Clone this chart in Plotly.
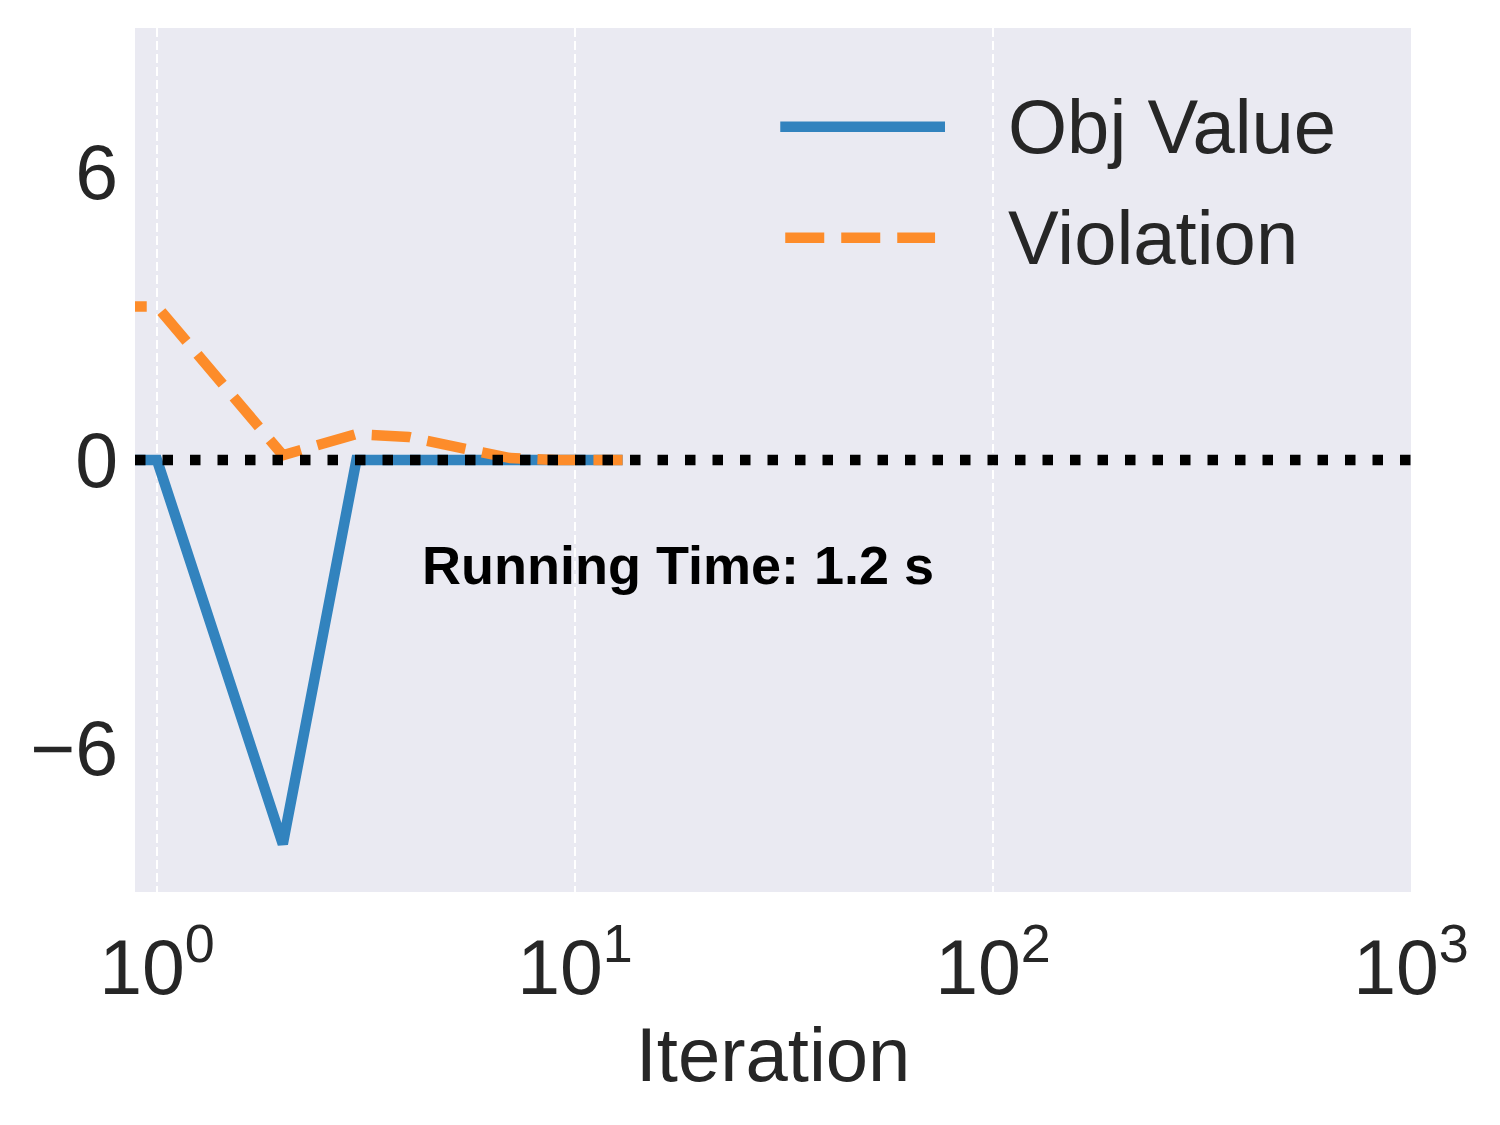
import plotly.graph_objects as go

# ---------------- data ----------------
iterations = [0, 1, 2, 3, 4, 5, 6, 7, 8, 9, 10, 11, 12, 13]
obj_value = [0, 0, -8.0, 0, 0, 0, 0, 0, 0, 0, 0, 0, 0, 0]
violation = [3.2, 3.2, 0.1, 0.54, 0.48, 0.28, 0.16, 0.04, 0, 0, 0, 0, 0, 0]

series_names = ["Obj Value", "Violation"]
x_tick_vals = [1, 10, 100, 1000]
x_tick_text = ["10<sup>0</sup>", "10<sup>1</sup>", "10<sup>2</sup>", "10<sup>3</sup>"]
y_tick_vals = [-6, 0, 6]
y_tick_text = ["\u22126", "0", "6"]
note_text = "Running Time: 1.2 s"

# matplotlib clips non-positive values on a log axis far to the left;
# emulate by substituting a small positive x for iteration 0
CLIP_X = 0.56
x_plot = [i if i > 0 else CLIP_X for i in iterations]

BLUE = "#3283be"
ORANGE = "#fd8c2a"
TEXT = "#262626"
LW = 10.5

fig = go.Figure()
fig.add_trace(go.Scatter(x=x_plot, y=obj_value, mode="lines", name=series_names[0],
                         line=dict(color=BLUE, width=LW), showlegend=False))
fig.add_trace(go.Scatter(x=x_plot, y=violation, mode="lines", name=series_names[1],
                         line=dict(color=ORANGE, width=LW, dash="39px,17px"), showlegend=False))

# dotted zero reference line (axhline)
fig.add_shape(type="line", xref="x domain", yref="y", x0=0, x1=1, y0=0, y1=0,
              line=dict(color="black", width=LW, dash="10.5px,17px"), layer="above")

# custom legend (long line samples as in the reference)
fig.add_shape(type="line", xref="x domain", yref="y domain", x0=0.5057, x1=0.6348,
              y0=0.8857, y1=0.8857, line=dict(color=BLUE, width=LW))
fig.add_shape(type="line", xref="x domain", yref="y domain", x0=0.5096, x1=0.6270,
              y0=0.7572, y1=0.7572, line=dict(color=ORANGE, width=LW, dash="39px,17px"))
for name, yy in zip(series_names, [0.8857, 0.7572]):
    fig.add_annotation(text=name, xref="x domain", yref="y domain", x=0.6826, y=yy,
                       xanchor="left", yanchor="middle", showarrow=False,
                       font=dict(family="Liberation Sans", size=76, color=TEXT))

fig.add_annotation(text=note_text, xref="x domain", yref="y domain", x=0.2231, y=0.3786,
                   xanchor="left", yanchor="middle", showarrow=False,
                   font=dict(family="Liberation Sans", size=54, color="black", weight="bold"))

fig.update_layout(
    width=1500, height=1125,
    margin=dict(l=127, r=97, t=20, b=241, pad=0),
    paper_bgcolor="white", plot_bgcolor="#eaeaf2",
    font=dict(family="Liberation Sans", size=76, color=TEXT),
)
fig.update_xaxes(type="log", range=[-0.0526, 3.0], tickvals=x_tick_vals, ticktext=x_tick_text,
                 showgrid=True, gridcolor="white", gridwidth=2, griddash="9px,4px",
                 zeroline=False, showline=False, ticks="", ticklabelstandoff=24,
                 tickfont=dict(size=77, color=TEXT),
                 title=dict(text="Iteration", font=dict(size=76, color=TEXT), standoff=18))
fig.update_yaxes(range=[-9, 9], tickvals=y_tick_vals, ticktext=y_tick_text,
                 showgrid=False, zeroline=False, showline=False, ticks="",
                 ticklabelstandoff=16, tickfont=dict(size=77, color=TEXT))

fig.write_html("out.html")
